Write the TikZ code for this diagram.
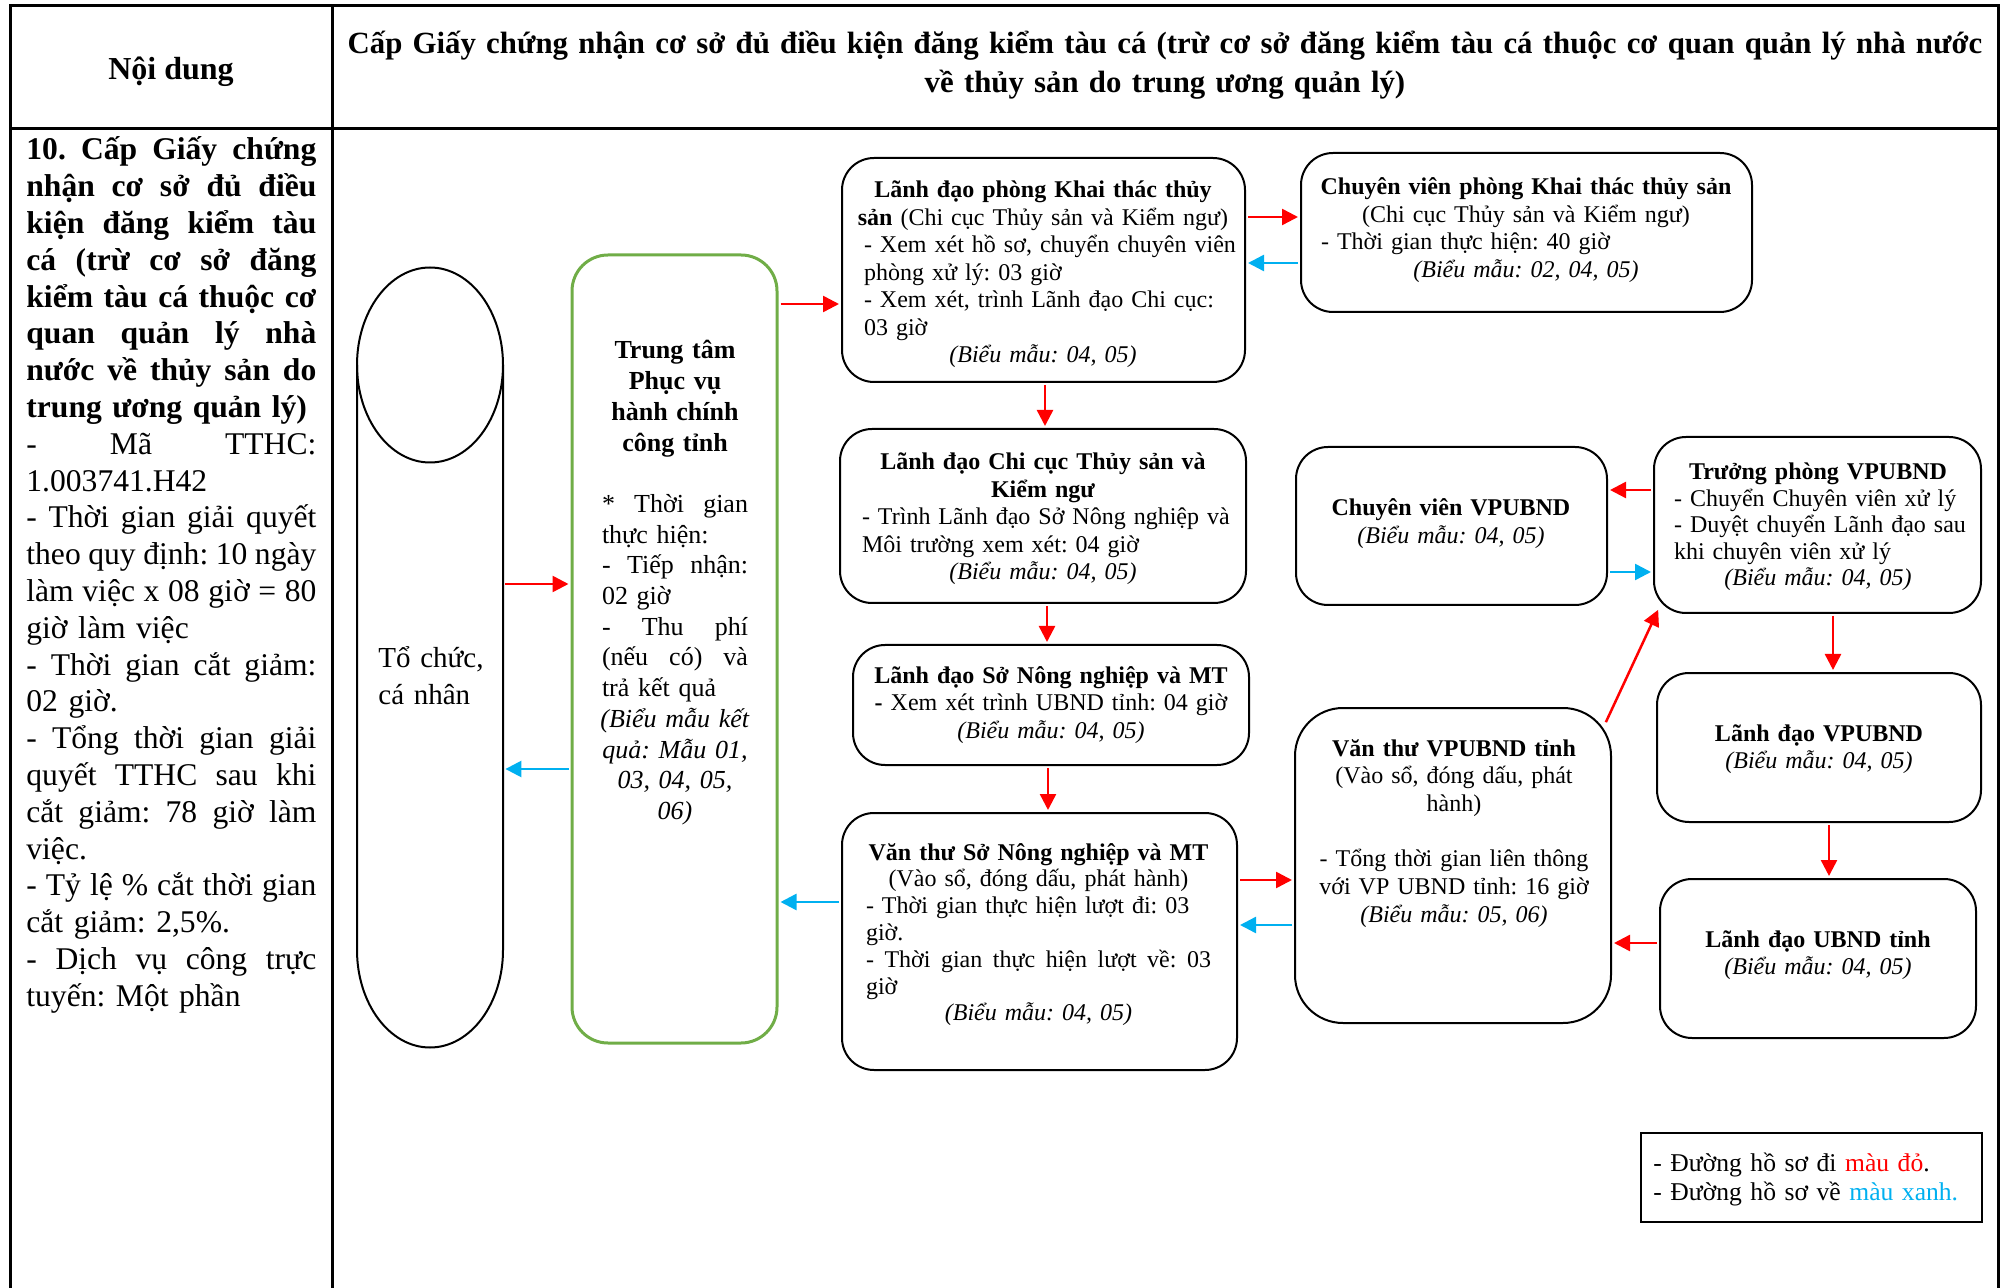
\documentclass[tikz,border=0pt]{standalone}
\usepackage{fontspec}
\setmainfont{Liberation Serif}
\usetikzlibrary{arrows.meta,calc}
\definecolor{rd}{RGB}{255,0,0}
\definecolor{bl}{RGB}{0,176,240}
\definecolor{gr}{RGB}{112,173,71}
\newcommand\Lft[1]{\leavevmode\hbox to \hsize{#1\hss}}
\newcommand\Spr[1]{\leavevmode\hbox to \hsize{\spaceskip=0.25em plus 1fil minus 0.15em\relax #1}}
\newcommand\Ctr[1]{\leavevmode\hbox to \hsize{\hss #1\hss}}
\frenchspacing
\begin{document}
\begin{tikzpicture}[x=0.5pt,y=-0.5pt,
  box/.style={draw=black, line width=1pt, rounded corners=16pt, inner sep=0pt},
  txt/.style={inner sep=0pt, anchor=base, align=center, font=\fontsize{12}{13.75}\selectfont},
  ra/.style={draw=rd, line width=1.25pt, shorten <=1pt, shorten >=1pt, -{Triangle[length=8pt,width=8pt]}},
  ba/.style={draw=bl, line width=1.25pt, shorten <=1pt, shorten >=1pt, -{Triangle[length=8pt,width=8pt]}},
  tbl/.style={line width=1.5pt}]
\useasboundingbox (0,0) rectangle (2008,1288);
% table
\draw[tbl] (10,1288) -- (10,6) -- (1998,6) -- (1998,1288);
\draw[tbl] (332,6) -- (332,1288);
\draw[tbl] (10,129) -- (1998,129);
\node[inner sep=0pt, anchor=base, font=\fontsize{16}{19.5}\selectfont\bfseries] (hd) at (171,80) {Nội dung};
\node[inner sep=0pt, anchor=base, align=center, text width=900pt, font=\fontsize{15.4}{19.5}\selectfont\bfseries] (title) at (1165,54)
 {\Ctr{Cấp Giấy chứng nhận cơ sở đủ điều kiện đăng kiểm tàu cá (trừ cơ sở đăng kiểm tàu cá thuộc cơ quan quản lý nhà nước}\\ \Ctr{về thủy sản do trung ương quản lý)}};
% left column
\node[inner sep=0pt, anchor=base west, text width=145pt, font=\fontsize{15.8}{18.4}\selectfont] (left) at (26,160)
 {\Spr{\textbf{10. Cấp Giấy chứng}}\\
  \Spr{\textbf{nhận cơ sở đủ điều}}\\
  \Spr{\textbf{kiện đăng kiểm tàu}}\\
  \Spr{\textbf{cá (trừ cơ sở đăng}}\\
  \Spr{\textbf{kiểm tàu cá thuộc cơ}}\\
  \Spr{\textbf{quan quản lý nhà}}\\
  \Spr{\textbf{nước về thủy sản do}}\\
  \Lft{\textbf{trung ương quản lý)}}\\
  \Spr{- Mã TTHC:}\\
  \Lft{1.003741.H42}\\
  \Spr{- Thời gian giải quyết}\\
  \Spr{theo quy định: 10 ngày}\\
  \Spr{làm việc x 08 giờ = 80}\\
  \Lft{giờ làm việc}\\
  \Spr{- Thời gian cắt giảm:}\\
  \Lft{02 giờ.}\\
  \Spr{- Tổng thời gian giải}\\
  \Spr{quyết TTHC sau khi}\\
  \Spr{cắt giảm: 78 giờ làm}\\
  \Lft{việc.}\\
  \Spr{- Tỷ lệ \% cắt thời gian}\\
  \Lft{cắt giảm: 2,5\%.}\\
  \Spr{- Dịch vụ công trực}\\
  \Lft{tuyến: Một phần}};
% cylinder
\node[inner sep=0pt, minimum width=73pt, minimum height=390pt] (cyl) at (430,657) {};
\draw[line width=1pt] (357,365) -- (357,950) arc[start angle=180, end angle=0, x radius=73, y radius=97.5] -- (503,365);
\draw[line width=1pt] (430,365) ellipse [x radius=73, y radius=97.5];
\node[inner sep=0pt, anchor=base west, text width=70pt, align=left, font=\fontsize{14.5}{18.5}\selectfont] (cylt) at (378,668) {Tổ chức,\\ cá nhân};
% Trung tam
\node[box, draw=gr, line width=1.5pt, rounded corners=18pt, minimum width=102.5pt, minimum height=394pt] (tt) at (674.5,649) {};
\node[txt, text width=73pt, font=\fontsize{13}{15.35}\selectfont] (ttt) at (675,359)
 {\Ctr{\textbf{Trung tâm}}\\ \Ctr{\textbf{Phục vụ}}\\ \Ctr{\textbf{hành chính}}\\ \Ctr{\textbf{công tỉnh}}\\ \mbox{}\\
  \Spr{* Thời gian}\\ \Lft{thực hiện:}\\ \Spr{- Tiếp nhận:}\\ \Lft{02 giờ}\\ \Spr{- Thu phí}\\
  \Spr{(nếu có) và}\\ \Lft{trả kết quả}\\ \Ctr{\textit{(Biểu mẫu kết}}\\ \Ctr{\textit{quả: Mẫu 01,}}\\ \Ctr{\textit{03, 04, 05,}}\\ \Ctr{\textit{06)}}};
% boxes
\node[box, minimum width=201.5pt, minimum height=112pt] (A) at (1043.5,270) {};
\node[txt, text width=179pt] (At) at (1043,198)
 {\Ctr{\textbf{Lãnh đạo phòng Khai thác thủy}}\\ \Ctr{\textbf{sản} (Chi cục Thủy sản và Kiểm ngư)}\\
  \Lft{- Xem xét hồ sơ, chuyển chuyên viên}\\ \Lft{phòng xử lý: 03 giờ}\\
  \Lft{- Xem xét, trình Lãnh đạo Chi cục:}\\ \Lft{03 giờ}\\ \Ctr{\textit{(Biểu mẫu: 04, 05)}}};
\node[box, minimum width=225.5pt, minimum height=79.5pt] (B) at (1526.5,232.5) {};
\node[txt, text width=205pt] (Bt) at (1526,195)
 {\Ctr{\textbf{Chuyên viên phòng Khai thác thủy sản}}\\ \Ctr{(Chi cục Thủy sản và Kiểm ngư)}\\
  \Lft{- Thời gian thực hiện: 40 giờ}\\ \Ctr{\textit{(Biểu mẫu: 02, 04, 05)}}};
\node[box, minimum width=203pt, minimum height=87pt] (C) at (1043,516) {};
\node[txt, text width=181pt] (Ct) at (1043,470)
 {\Ctr{\textbf{Lãnh đạo Chi cục Thủy sản và}}\\ \Ctr{\textbf{Kiểm ngư}}\\
  \Lft{- Trình Lãnh đạo Sở Nông nghiệp và}\\ \Lft{Môi trường xem xét: 04 giờ}\\ \Ctr{\textit{(Biểu mẫu: 04, 05)}}};
\node[box, minimum width=198pt, minimum height=60pt] (D) at (1051,705) {};
\node[txt, text width=190pt] (Dt) at (1051,683)
 {\Ctr{\textbf{Lãnh đạo Sở Nông nghiệp và MT}}\\ \Ctr{\textbf{-} Xem xét trình UBND tỉnh: 04 giờ}\\ \Ctr{\textit{(Biểu mẫu: 04, 05)}}};
\node[box, minimum width=197.5pt, minimum height=128.5pt] (E) at (1039.5,941.5) {};
\node[txt, text width=172.5pt, font=\fontsize{12}{13.4}\selectfont] (Et) at (1038.5,860)
 {\Ctr{\textbf{Văn thư Sở Nông nghiệp và MT}}\\ \Ctr{(Vào sổ, đóng dấu, phát hành)}\\
  \Lft{- Thời gian thực hiện lượt đi: 03}\\ \Lft{giờ.}\\
  \Spr{- Thời gian thực hiện lượt về: 03}\\ \Lft{giờ}\\ \Ctr{\textit{(Biểu mẫu: 04, 05)}}};
\node[box, rounded corners=24pt, minimum width=158pt, minimum height=157.5pt] (F) at (1453,865.5) {};
\node[txt, text width=140pt, font=\fontsize{12}{13.85}\selectfont] (Ft) at (1454,756)
 {\Ctr{\textbf{Văn thư VPUBND tỉnh}}\\ \Ctr{(Vào sổ, đóng dấu, phát}\\ \Ctr{hành)}\\ \mbox{}\\
  \Ctr{- Tổng thời gian liên thông}\\ \Ctr{với VP UBND tỉnh: 16 giờ}\\ \Ctr{\textit{(Biểu mẫu: 05, 06)}}};
\node[box, minimum width=162pt, minimum height=74.5pt] (G) at (1819,747.5) {};
\node[txt, text width=150pt] (Gt) at (1819,741) {\Ctr{\textbf{Lãnh đạo VPUBND}}\\ \Ctr{\textit{(Biểu mẫu: 04, 05)}}};
\node[box, minimum width=158pt, minimum height=79.5pt] (H) at (1818,958.5) {};
\node[txt, text width=150pt] (Ht) at (1818,947) {\Ctr{\textbf{Lãnh đạo UBND tỉnh}}\\ \Ctr{\textit{(Biểu mẫu: 04, 05)}}};
\node[box, minimum width=163.5pt, minimum height=88pt] (I) at (1817.5,525) {};
\node[txt, text width=144pt, font=\fontsize{12}{13.25}\selectfont] (It) at (1818,480)
 {\Ctr{\textbf{Trưởng phòng VPUBND}}\\ \Lft{- Chuyển Chuyên viên xử lý}\\
  \Lft{- Duyệt chuyển Lãnh đạo sau}\\ \Lft{khi chuyên viên xử lý}\\ \Ctr{\textit{(Biểu mẫu: 04, 05)}}};
\node[box, minimum width=155.5pt, minimum height=79pt] (J) at (1451.5,526) {};
\node[txt, text width=150pt] (Jt) at (1451,516) {\Ctr{\textbf{Chuyên viên VPUBND}}\\ \Ctr{\textit{(Biểu mẫu: 04, 05)}}};
% legend
\node[draw, line width=1pt, inner sep=0pt, minimum width=170.5pt, minimum height=44.5pt] (leg) at (1811.5,1177.5) {};
\node[inner sep=0pt, anchor=base west, align=left, text width=165pt, font=\fontsize{12.8}{14.5}\selectfont] (legt) at (1653,1171)
 {\Lft{- Đường hồ sơ đi \textcolor{rd}{màu đỏ}.}\\ \Lft{- Đường hồ sơ về \textcolor{bl}{màu xanh.}}};
% connectors
\draw[ra] (cyl.east |- 0,584) -- (tt.west |- 0,584);
\draw[ba] (tt.west |- 0,769) -- (cyl.east |- 0,769);
\draw[ra] (tt.east |- 0,304) -- (A.west |- 0,304);
\draw[ra] (A.east |- 0,217) -- (B.west |- 0,217);
\draw[ba] (B.west |- 0,263) -- (A.east |- 0,263);
\draw[ra] (A.south -| 1045,0) -- (C.north -| 1045,0);
\draw[ra] (C.south -| 1047,0) -- (D.north -| 1047,0);
\draw[ra] (D.south -| 1048,0) -- (E.north -| 1048,0);
\draw[ra] (E.east |- 0,880) -- (F.west |- 0,880);
\draw[ba] (F.west |- 0,925) -- (E.east |- 0,925);
\draw[ba] (E.west |- 0,902) -- (tt.east |- 0,902);
\draw[ra] ($(F.north east)+(-7,17)$) -- ($(I.south west)+(6,-6)$);
\draw[ra] (I.west |- 0,490) -- (J.east |- 0,490);
\draw[ba] (J.east |- 0,572) -- (I.west |- 0,572);
\draw[ra] (I.south -| 1833,0) -- (G.north -| 1833,0);
\draw[ra] (G.south -| 1829,0) -- (H.north -| 1829,0);
\draw[ra] (H.west |- 0,943) -- (F.east |- 0,943);
\end{tikzpicture}
\end{document}
